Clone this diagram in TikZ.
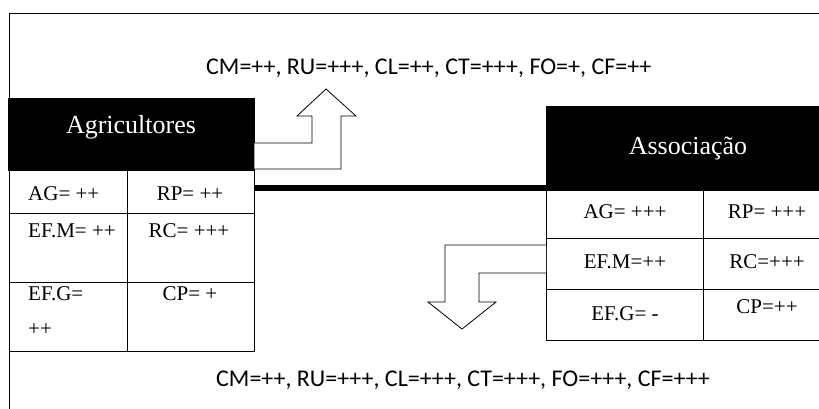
\documentclass[tikz,border=0pt]{standalone}
\usepackage{fontspec}
\setmainfont{Liberation Serif}
\newfontfamily\calib{Carlito}
\begin{document}
\begin{tikzpicture}[x=1pt,y=-1pt,
  blackbox/.style={fill=black,draw=black,inner sep=0pt,anchor=north west},
  boxlabel/.style={text=white,font=\fontsize{26}{30}\selectfont,inner sep=0pt,anchor=base},
  cell/.style={draw=black,line width=0.8pt,inner sep=0pt,anchor=north west},
  celltext/.style={font=\fontsize{21}{25}\selectfont,inner sep=0pt,anchor=base},
  sanstext/.style={font=\calib\fontsize{24}{28}\selectfont,inner sep=0pt,anchor=base west},
  blockarrow/.style={draw=black,line width=0.8pt,fill=white},
  link/.style={line width=6pt},
  frameline/.style={line width=0.8pt}]
\useasboundingbox (0,0) rectangle (819,409);
\clip (0,0) rectangle (819,409);
% frame
\draw[frameline] (9,409) -- (9,13) -- (819,13);
% Agricultores
\node[blackbox,minimum width=246pt,minimum height=72pt] (agr) at (8,98) {};
\node[boxlabel] (agrlabel) at (131,134) {Agricultores};
\node[cell,minimum width=118pt,minimum height=43pt] (agrAG) at (9,170) {};
\node[cell,minimum width=127pt,minimum height=43pt] (agrRP) at (127,170) {};
\node[cell,minimum width=118pt,minimum height=69pt] (agrEFM) at (9,213) {};
\node[cell,minimum width=127pt,minimum height=69pt] (agrRC) at (127,213) {};
\node[cell,minimum width=118pt,minimum height=69pt] (agrEFG) at (9,282) {};
\node[cell,minimum width=127pt,minimum height=69pt] (agrCP) at (127,282) {};
\node[celltext,anchor=base west] (tAG) at (28,200) {AG= ++};
\node[celltext] (tRP) at (190,200) {RP= ++};
\node[celltext,anchor=base west] (tEFM) at (28,237) {EF.M= ++};
\node[celltext] (tRC) at (189,237) {RC= +++};
\node[celltext,anchor=base west] (tEFG) at (28,300) {EF.G=};
\node[celltext,anchor=base west] (tEFGb) at (28,335) {++};
\node[celltext] (tCP) at (190,300) {CP= +};
% Associacao
\node[blackbox,minimum width=285pt,minimum height=84pt] (asc) at (546,106) {};
\node[boxlabel] (asclabel) at (688,154) {Associação};
\node[cell,minimum width=157pt,minimum height=48pt] (ascAG) at (546,190) {};
\node[cell,minimum width=128pt,minimum height=48pt] (ascRP) at (703,190) {};
\node[cell,minimum width=157pt,minimum height=51pt] (ascEFM) at (546,238) {};
\node[cell,minimum width=128pt,minimum height=51pt] (ascRC) at (703,238) {};
\node[cell,minimum width=157pt,minimum height=51pt] (ascEFG) at (546,289) {};
\node[cell,minimum width=128pt,minimum height=51pt] (ascCP) at (703,289) {};
\node[celltext] (uAG) at (625,218) {AG= +++};
\node[celltext] (uRP) at (767,218) {RP= +++};
\node[celltext] (uEFM) at (625,268) {EF.M=++};
\node[celltext] (uRC) at (767,268) {RC=+++};
\node[celltext] (uEFG) at (625,320) {EF.G= -};
\node[celltext] (uCP) at (767,313) {CP=++};
% link
\draw[link] (agrRP.east |- 0,188) -- (asc.west |- 0,188);
% up arrow
\draw[blockarrow] (agr.east |- 0,143) -- (312,143) -- (312,116) -- (297,116) -- (326,89) -- (356,116) -- (341,116) -- (341,169) -- (agr.east |- 0,169);
% down arrow
\draw[blockarrow] (ascEFM.west |- 0,245) -- (445,245) -- (445,302) -- (428,302) -- (462,329) -- (496,302) -- (479,302) -- (479,273) -- (ascEFM.west |- 0,273);
% texts
\node[sanstext] (toptext) at (206,75) {CM=++, RU=+++, CL=++, CT=+++, FO=+, CF=++};
\node[sanstext] (bottext) at (216,386) {CM=++, RU=+++, CL=+++, CT=+++, FO=+++, CF=+++};
\end{tikzpicture}
\end{document}
